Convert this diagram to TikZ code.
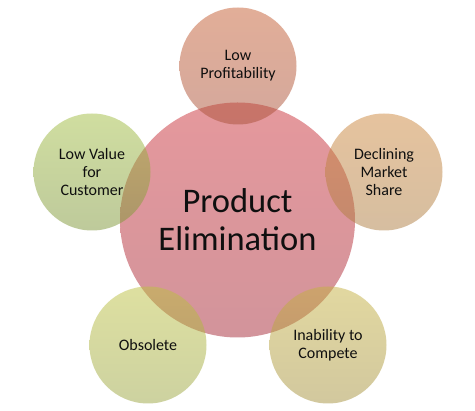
\documentclass[tikz,border=0pt]{standalone}
\usepackage{fontspec}
\setmainfont{Carlito}
\definecolor{txt}{RGB}{15,15,15}
\definecolor{cenT}{RGB}{229,152,156}
\definecolor{cenB}{RGB}{210,148,155}
\definecolor{topT}{RGB}{197,93,49}
\definecolor{topB}{RGB}{169,81,57}
\definecolor{ruT}{RGB}{205,135,61}
\definecolor{ruB}{RGB}{173,125,65}
\definecolor{rlT}{RGB}{197,177,65}
\definecolor{rlB}{RGB}{165,145,61}
\definecolor{llT}{RGB}{189,193,65}
\definecolor{llB}{RGB}{155,165,65}
\definecolor{luT}{RGB}{161,189,65}
\definecolor{luB}{RGB}{125,149,55}
\tikzset{
  sat/.style={circle, minimum size=117pt, inner sep=0pt, align=center,
    fill opacity=0.5, text opacity=1, text=txt,
    font=\fontsize{16}{18}\selectfont},
  hub/.style={circle, minimum size=235pt, inner sep=0pt, align=center,
    top color=cenT, bottom color=cenB, text=txt,
    font=\fontsize{34.5}{38}\selectfont}
}
\begin{document}
\begin{tikzpicture}[x=1pt,y=-1pt]
\useasboundingbox (0,0) rectangle (475,411);
\node[hub] (c) at (237.5,220) {Product\\Elimination};
\node[sat, top color=topT, bottom color=topB] (t) at (238,66) {Low\\Profitability};
\node[sat, top color=ruT, bottom color=ruB] (ru) at (384,172) {Declining\\Market\\Share};
\node[sat, top color=rlT, bottom color=rlB] (rl) at (328,345) {Inability to\\Compete};
\node[sat, top color=llT, bottom color=llB] (ll) at (148,345) {Obsolete};
\node[sat, top color=luT, bottom color=luB] (lu) at (92,172) {Low Value\\for\\Customer};
\end{tikzpicture}
\end{document}
